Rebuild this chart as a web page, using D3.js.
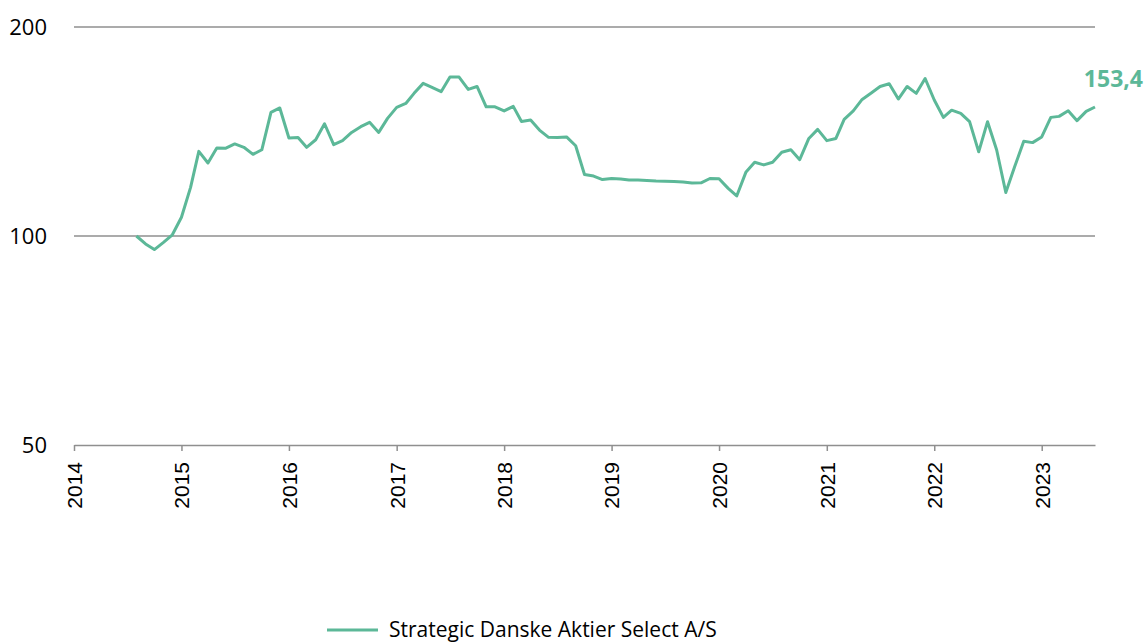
<!DOCTYPE html>
<html>
<head>
<meta charset="utf-8">
<script src="https://cdn.jsdelivr.net/npm/d3@7"></script>
<style>
  body { margin: 0; background: #fff; }
  svg { display: block; }
</style>
</head>
<body>
<script>
let width = 1144,
    height = 642;

// monthly index values, Aug 2014 .. Jul 2023
let seriesName = "Strategic Danske Aktier Select A/S";
let startMonth = new Date(2014, 7, 1);
let values = [
    100, 97.4, 95.6, 97.9, 100.4, 106.4, 117.5, 132.4, 127.4, 133.9,
    133.8, 135.7, 134.2, 131.1, 133.1, 150.7, 152.9, 138.4, 138.6, 134.2,
    137.6, 145.1, 135.4, 137.2, 141.0, 143.7, 145.8, 141.0, 147.7, 153.2,
    155.2, 160.5, 165.9, 163.7, 161.4, 169.4, 169.4, 162.6, 164.2, 153.5,
    153.5, 151.4, 153.7, 146.2, 146.9, 142.1, 138.7, 138.6, 138.9, 134.9,
    122.6, 122.0, 120.6, 121.0, 120.8, 120.4, 120.4, 120.2, 120.0, 119.9,
    119.8, 119.6, 119.2, 119.3, 121.0, 120.9, 117.1, 114.2, 123.5, 127.7,
    126.6, 127.7, 132.0, 133.1, 128.8, 138.2, 142.4, 137.2, 138.2, 147.2,
    151.4, 157.3, 160.7, 164.2, 165.7, 157.5, 164.2, 160.5, 168.6, 157.0,
    148.2, 151.8, 150.2, 146.1, 132.2, 146.1, 133.0, 115.5, 125.8, 136.9,
    136.3, 138.9, 148.2, 148.7, 151.5, 146.6, 151.2, 153.4
];
let yTicks = [50, 100, 200];
let xYears = [2014, 2015, 2016, 2017, 2018, 2019, 2020, 2021, 2022, 2023];
let lastLabel = "153,4";

let lineColor = '#5cb898';
let gridColor = '#8f8f8f';

let data = values.map((v, i) => ({ date: d3.timeMonth.offset(startMonth, i), value: v }));

let svg = d3.select('body').append('svg')
    .attr('width', width)
    .attr('height', height);

let x = d3.scaleTime()
    .domain([new Date(2014, 0, 1), new Date(2023, 6, 1)])
    .range([74, 1095]);

let y = d3.scaleLog()
    .domain([50, 200])
    .range([445, 27]);

// horizontal gridlines
svg.selectAll('line.grid').data(yTicks.slice(1)).enter()
    .append('line')
    .attr('class', 'grid')
    .attr('x1', x.range()[0])
    .attr('x2', x.range()[1])
    .attr('y1', d => y(d))
    .attr('y2', d => y(d))
    .attr('stroke', gridColor)
    .attr('stroke-width', 1.5);

// y labels
svg.selectAll('text.ylab').data(yTicks).enter()
    .append('text')
    .attr('class', 'ylab')
    .attr('x', 47)
    .attr('y', d => y(d))
    .attr('dy', '0.35em')
    .attr('text-anchor', 'end')
    .style('font-family', 'Open Sans, sans-serif')
    .style('font-size', '22px')
    .attr('fill', '#000')
    .text(d => d);

// x axis
let xAxis = d3.axisBottom(x)
    .tickValues(xYears.map(yr => new Date(yr, 0, 1)))
    .tickFormat(d3.timeFormat('%Y'))
    .tickSize(6)
    .tickSizeOuter(0);

let gx = svg.append('g')
    .attr('transform', `translate(0,${y(50)})`)
    .call(xAxis);

gx.select('.domain').attr('stroke', gridColor).attr('stroke-width', 1.5);
gx.selectAll('.tick line').attr('stroke', gridColor).attr('stroke-width', 1.5);
gx.selectAll('.tick text')
    .attr('transform', 'rotate(-90)')
    .attr('x', -17)
    .attr('y', 0)
    .attr('dy', '0.35em')
    .attr('text-anchor', 'end')
    .style('font-family', 'Liberation Sans, Arial, sans-serif')
    .style('font-size', '21px')
    .attr('fill', '#000');

// series line
let line = d3.line()
    .x(d => x(d.date))
    .y(d => y(d.value));

svg.append('path')
    .datum(data)
    .attr('d', line)
    .attr('fill', 'none')
    .attr('stroke', lineColor)
    .attr('stroke-width', 3)
    .attr('stroke-linejoin', 'round');

// end label
let last = data[data.length - 1];
svg.append('text')
    .attr('x', width - 1)
    .attr('y', y(last.value) - 20)
    .attr('text-anchor', 'end')
    .style('font-family', 'Open Sans, sans-serif')
    .style('font-weight', 'bold')
    .style('font-size', '23px')
    .attr('fill', lineColor)
    .text(lastLabel);

// legend
let legend = svg.append('g').attr('transform', 'translate(327,630)');
legend.append('line')
    .attr('x1', 0).attr('x2', 51)
    .attr('y1', 0).attr('y2', 0)
    .attr('stroke', lineColor)
    .attr('stroke-width', 3);
legend.append('text')
    .attr('x', 62)
    .attr('y', 0)
    .attr('dy', '0.35em')
    .style('font-family', 'Open Sans, sans-serif')
    .style('font-size', '21px')
    .attr('fill', '#000')
    .text(seriesName);
</script>
</body>
</html>
